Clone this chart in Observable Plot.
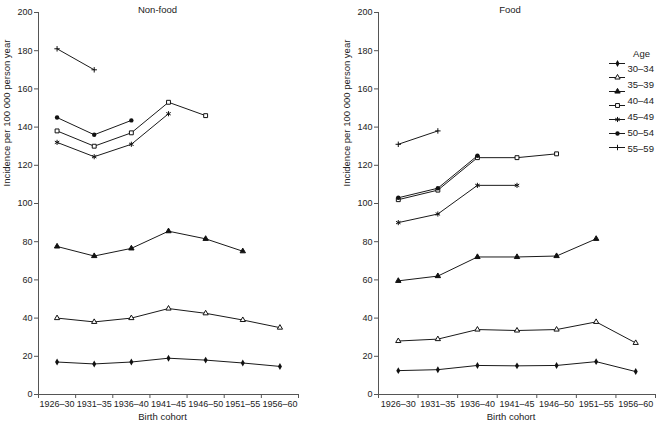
<!DOCTYPE html>
<html>
<head>
<meta charset="utf-8">
<script src="https://cdn.jsdelivr.net/npm/d3@7"></script>
<script src="https://cdn.jsdelivr.net/npm/@observablehq/plot@0.6"></script>
<style>
  html, body { margin: 0; padding: 0; background: #fff; }
  #chart { position: relative; width: 659px; height: 424px; overflow: hidden; }
  #chart > svg { position: absolute; }
</style>
</head>
<body>
<div id="chart"></div>
<script>
// ---- Data ----
const cohorts = ["1926–30", "1931–35", "1936–40", "1941–45", "1946–50", "1951–55", "1956–60"];
const seriesNames = ["diamond", "openTriangle", "filledTriangle", "openSquare", "asterisk", "filledCircle", "plus"];
const legendLabels = ["30–34", "35–39", "40–44", "45–49", "50–54", "55–59"];
const yTicks = [0, 20, 40, 60, 80, 100, 120, 140, 160, 180, 200];

// Non-food panel
const nonFoodDiamond        = [17, 16, 17, 19, 18, 16.5, 14.7];
const nonFoodOpenTriangle   = [40, 38, 40, 45, 42.5, 39, 35];
const nonFoodFilledTriangle = [77.5, 72.5, 76.5, 85.5, 81.5, 75, null];
const nonFoodOpenSquare     = [138, 130, 137, 153, 146, null, null];
const nonFoodAsterisk       = [132, 124.5, 131, 147, null, null, null];
const nonFoodFilledCircle   = [145, 136, 143.5, null, null, null, null];
const nonFoodPlus           = [181, 170, null, null, null, null, null];

// Food panel
const foodDiamond        = [12.5, 13, 15.2, 15, 15.2, 17.2, 12];
const foodOpenTriangle   = [28, 29, 34, 33.5, 34, 38, 27];
const foodFilledTriangle = [59.5, 62, 72, 72, 72.5, 81.5, null];
const foodOpenSquare     = [102, 107, 124, 124, 126, null, null];
const foodAsterisk       = [90, 94.5, 109.5, 109.5, null, null, null];
const foodFilledCircle   = [103, 108, 125, null, null, null, null];
const foodPlus           = [131, 138, null, null, null, null, null];

// ---- Styles ----
const symbolStyle = {
  diamond:        {symbol: "diamond",  fill: "#111", stroke: "none", r: 2.1},
  openTriangle:   {symbol: "triangle", fill: "#fff", stroke: "#111", r: 1.95},
  filledTriangle: {symbol: "triangle", fill: "#111", stroke: "#111", r: 2.0},
  openSquare:     {symbol: "square",   fill: "#fff", stroke: "#111", r: 2.2},
  asterisk:       {symbol: "asterisk", fill: "none", stroke: "#111", r: 2.4},
  filledCircle:   {symbol: "circle",   fill: "#111", stroke: "none", r: 2.2},
  plus:           {symbol: "plus",     fill: "none", stroke: "#111", r: 1.9}
};

function toRows(arrays) {
  const rows = [];
  seriesNames.forEach((s, si) => {
    arrays[si].forEach((v, i) => {
      if (v != null) rows.push({series: s, cohort: cohorts[i], idx: i + 0.5, value: v});
    });
  });
  return rows;
}
const nonFoodRows = toRows([nonFoodDiamond, nonFoodOpenTriangle, nonFoodFilledTriangle, nonFoodOpenSquare, nonFoodAsterisk, nonFoodFilledCircle, nonFoodPlus]);
const foodRows = toRows([foodDiamond, foodOpenTriangle, foodFilledTriangle, foodOpenSquare, foodAsterisk, foodFilledCircle, foodPlus]);

const font = "'Liberation Sans', Arial, Helvetica, sans-serif";
const axisColor = "#555";
const textColor = "#222";

function panel(rows, title, opts) {
  const marks = [
    Plot.frame({anchor: "left", stroke: axisColor}),
    Plot.frame({anchor: "bottom", stroke: axisColor}),
    Plot.axisY({ticks: yTicks, tickSize: 4, tickPadding: 2, label: null, stroke: axisColor}),
    Plot.axisX({ticks: d3.range(0, cohorts.length + 1), tickFormat: () => "", tickSize: 4, label: null, stroke: axisColor}),
    Plot.axisX({ticks: d3.range(cohorts.length).map(i => i + 0.5), tickFormat: d => cohorts[Math.floor(d)], tickSize: 0, tickPadding: 6, label: null}),
    Plot.line(rows, {x: "idx", y: "value", z: "series", stroke: "#1a1a1a", strokeWidth: 1}),
  ];
  for (const s of seriesNames) {
    const st = symbolStyle[s];
    marks.push(Plot.dot(rows.filter(d => d.series === s), {
      x: "idx", y: "value", symbol: () => st.symbol, r: st.r,
      fill: st.fill, stroke: st.stroke, strokeWidth: 1
    }));
  }
  marks.push(
    Plot.text([title], {frameAnchor: "top", dy: -6, dx: opts.titleDx, fill: textColor, fontSize: 9.5}),
    Plot.text(["Birth cohort"], {frameAnchor: "bottom", dy: 25, dx: -6, fill: textColor, fontSize: 9.5}),
    Plot.text(["Incidence per 100 000 person year"], {frameAnchor: "left", rotate: -90, dx: -32, dy: -17, fill: textColor, fontSize: 9.5})
  );
  return Plot.plot({
    width: opts.width, height: 424,
    marginLeft: opts.marginLeft, marginRight: opts.marginRight, marginTop: 12, marginBottom: 30,
    x: {domain: [0, cohorts.length]},
    y: {domain: [0, 200]},
    symbol: {type: "identity"},
    style: {fontFamily: font, fontSize: "9px", color: textColor, background: "none", overflow: "visible"},
    marks
  });
}

const chart = document.getElementById("chart");

const left = panel(nonFoodRows, "Non-food", {width: 330, marginLeft: 38, marginRight: 32, titleDx: -11});
left.style.left = "0px"; left.style.top = "0px";
chart.appendChild(left);

const right = panel(foodRows, "Food", {width: 329, marginLeft: 48, marginRight: 4, titleDx: -7});
right.style.left = "330px"; right.style.top = "0px";
chart.appendChild(right);

// ---- Legend: marker samples ----
const legendMarkers = Plot.plot({
  width: 59, height: 120,
  marginLeft: 9, marginRight: 34, marginTop: 0, marginBottom: 0,
  y: {type: "point", domain: seriesNames, range: [21, 108], padding: 0, axis: null},
  x: {axis: null},
  symbol: {type: "identity"},
  style: {fontFamily: font, fontSize: "9px", color: textColor, background: "none", overflow: "visible"},
  marks: [
    Plot.tickY(seriesNames, {y: d => d, stroke: "#1a1a1a", strokeWidth: 1}),
    ...seriesNames.map(s => Plot.dot([s], {
      y: d => d, frameAnchor: "middle", symbol: () => symbolStyle[s].symbol, r: symbolStyle[s].r,
      fill: symbolStyle[s].fill, stroke: symbolStyle[s].stroke, strokeWidth: 1
    }))
  ]
});
legendMarkers.style.left = "600px"; legendMarkers.style.top = "40px";
chart.appendChild(legendMarkers);

// ---- Legend: labels ----
const legendText = Plot.plot({
  width: 59, height: 120,
  marginLeft: 27, marginRight: 0, marginTop: 0, marginBottom: 0,
  y: {type: "point", domain: legendLabels, range: [26.5, 108.5], padding: 0, axis: null},
  style: {fontFamily: font, fontSize: "9.5px", color: textColor, background: "none", overflow: "visible"},
  marks: [
    Plot.text(legendLabels, {y: d => d, frameAnchor: "left", textAnchor: "start", fill: textColor}),
    Plot.text(["Age"], {frameAnchor: "top-left", dx: 14, dy: 10, textAnchor: "middle", fill: textColor})
  ]
});
legendText.style.left = "600px"; legendText.style.top = "40px";
chart.appendChild(legendText);
</script>
</body>
</html>
